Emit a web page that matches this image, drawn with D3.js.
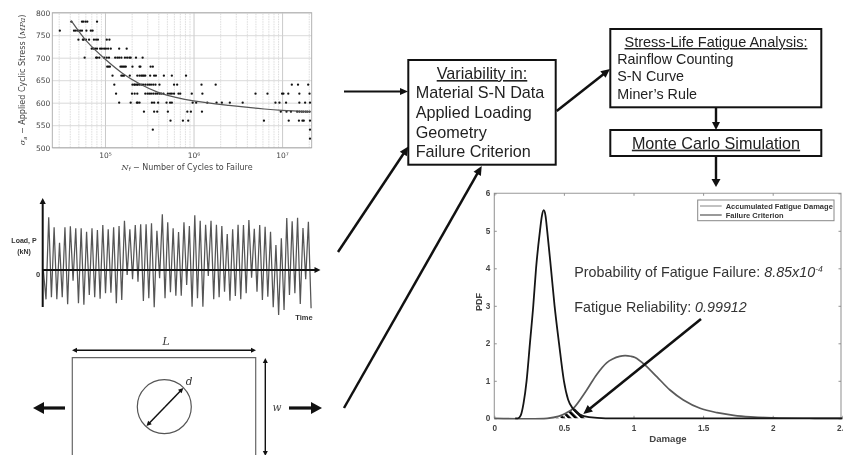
<!DOCTYPE html>
<html><head><meta charset="utf-8">
<script src="https://cdnjs.cloudflare.com/ajax/libs/d3/7.8.5/d3.min.js"></script>
<style>
html,body{margin:0;padding:0;background:#fff;overflow:hidden}
svg{display:block;filter:blur(0.5px)}
</style></head><body><svg id="c" width="843" height="455"></svg>
<script>
// ---- S-N data: stress level (MPa) and log10(cycles) of the failures at that level
const snStress = [780,760,740,720,700,680,660,640,620,600,580,560,540,520];
const snLogCycles = [
 [4.62,4.74,4.755,4.78,4.80,4.91],
 [4.49,4.65,4.67,4.695,4.72,4.74,4.79,4.84,4.86],
 [4.70,4.75,4.76,4.785,4.82,4.875,4.90,4.92,5.02,5.05],
 [4.85,4.87,4.89,4.91,4.945,4.965,4.99,5.01,5.035,5.065,5.16,5.245],
 [4.77,4.90,4.91,4.935,4.99,5.02,5.045,5.115,5.14,5.16,5.185,5.225,5.25,5.275,5.29,5.35,5.425],
 [5.025,5.04,5.055,5.175,5.19,5.205,5.22,5.235,5.31,5.39,5.40,5.515,5.54],
 [5.085,5.185,5.20,5.215,5.28,5.365,5.39,5.41,5.425,5.44,5.455,5.51,5.555,5.575,5.665,5.755,5.915],
 [5.105,5.31,5.33,5.34,5.36,5.37,5.39,5.41,5.43,5.455,5.48,5.50,5.52,5.545,5.57,5.615,5.78,5.815,6.09,6.25,7.11,7.18,7.295],
 [5.125,5.305,5.335,5.365,5.455,5.48,5.50,5.52,5.545,5.57,5.59,5.615,5.635,5.66,5.71,5.735,5.755,5.78,5.83,5.85,5.98,6.10,6.70,6.835,7.0,7.015,7.07,7.195,7.31],
 [5.16,5.29,5.36,5.37,5.39,5.53,5.555,5.60,5.695,5.735,5.755,5.99,6.03,6.155,6.26,6.32,6.41,6.555,6.925,6.97,7.045,7.195,7.26,7.315],
 [5.44,5.555,5.59,5.71,5.93,5.97,6.095,6.985,7.05,7.10,7.17,7.195,7.22,7.24,7.265,7.285,7.31],
 [5.74,5.88,5.94,6.795,7.075,7.19,7.23,7.245,7.315],
 [5.54,7.315],
 [7.315]
];
const snCurveLogN = [4.62,4.8,5.0,5.2,5.4,5.6,5.8,6.0,6.4,6.8,7.0,7.32];
const snCurveStress = [782,735,697,665,641,623,612,604,594,586,583,580];
const snYTicks = [500,550,600,650,700,750,800];
const snXMajor = [1e5,1e6,1e7];
const snXMinor = [3e4,4e4,5e4,6e4,7e4,8e4,9e4,2e5,3e5,4e5,5e5,6e5,7e5,8e5,9e5,2e6,3e6,4e6,5e6,6e6,7e6,8e6,9e6,2e7];
// ---- Load history: turning points (kN)
const loadPeaks = [15.8,12.8,8.2,12.8,13.1,12.5,12.5,11.5,12.5,12.0,13.5,12.2,12.8,13.2,14.8,12.2,13.5,13.7,13.7,14.0,11.8,16.7,14.3,12.5,11.4,14.3,13.2,16.4,14.8,13.6,14.8,13.6,13.2,10.8,12.2,13.6,13.5,15.0,12.4,13.5,13.0,11.5,7.5,9.5,15.6,14.6,15.7,12.6,14.5];
const loadTroughs = [-8.8,-8.2,-8.8,-8.2,-10.3,-3.2,-10,-10.4,-7.5,-8.2,-8.6,-7,-6.8,-10,-9,-1.5,-2.8,-3.5,-9.3,-8.5,-11.2,-2.5,-8.5,-6.7,-7.7,-7.7,-4.5,-11,-8.5,-11,-1.8,-8.8,-8.2,-6.5,-9.2,-7.8,-8.8,-7,-2.3,-6.5,-9,-8,-11.2,-13.5,-12,-7.5,-7,-10.2,-2.8,-11.5];
// ---- PDF curves
const criterionDamage = [0.15,0.17,0.19,0.21,0.232,0.256,0.28,0.30,0.328,0.342,0.355,0.368,0.38,0.407,0.433,0.465,0.50,0.53,0.567,0.615,0.68,0.8,2.5];
const criterionPdf    = [0,0,0.08,0.4,1,2,3,4,5,5.4,5.55,5.4,5,4,3,2,1,0.5,0.25,0.1,0.03,0,0];
const damageDamage = [0,0.38,0.46,0.52,0.568,0.664,0.736,0.807,0.85,0.90,0.939,0.98,1.011,1.083,1.167,1.262,1.358,1.478,1.60,1.72,1.84,2.0,2.3,2.5];
const damagePdf    = [0,0,0.05,0.15,0.267,0.755,1.17,1.48,1.58,1.65,1.67,1.655,1.62,1.42,1.11,0.755,0.49,0.267,0.15,0.08,0.04,0.012,0,0];
const overlapDamage = [0.436,0.48,0.52,0.55,0.58,0.61,0.64,0.664];
const overlapPdf    = [0,0.05,0.13,0.2,0.27,0.17,0.08,0];
const pdfXTicks = [0,0.5,1,1.5,2,2.5];
const pdfYTicks = [0,1,2,3,4,5,6];

const svg = d3.select("#c");
const defs = svg.append("defs");
function arrow(x1,y1,x2,y2,w,hl,hw,col){
  col = col||"#111";
  const a=Math.atan2(y2-y1,x2-x1), c=Math.cos(a), s=Math.sin(a);
  svg.append("line").attr("x1",x1).attr("y1",y1).attr("x2",x2-c*hl*0.7).attr("y2",y2-s*hl*0.7)
     .attr("stroke",col).attr("stroke-width",w);
  const bx=x2-c*hl, by=y2-s*hl;
  svg.append("polygon").attr("fill",col).attr("points",
    [[x2,y2],[bx-s*hw,by+c*hw],[bx+s*hw,by-c*hw]].map(p=>p.join(",")).join(" "));
}
function arrow2(x1,y1,x2,y2,w,hl,hw,col){
  arrow((x1+x2)/2,(y1+y2)/2,x2,y2,w,hl,hw,col);
  arrow((x1+x2)/2,(y1+y2)/2,x1,y1,w,hl,hw,col);
}

// ===== S-N panel =====
const snX = d3.scaleLog().domain([25400,2.16e7]).range([52.3,311.7]);
const snY = d3.scaleLinear().domain([500,800]).range([147.7,12.7]);
const snG = svg.append("g");
snG.append("g").attr("transform","translate(0,147.7)")
  .call(d3.axisBottom(snX).tickValues(snXMinor).tickSize(-135).tickFormat(""))
  .call(g=>{g.select(".domain").remove();g.selectAll("line").attr("stroke","#d4d4d4").attr("stroke-width",0.8).attr("stroke-dasharray","1.5,1");});
const sup={1e5:"10⁵",1e6:"10⁶",1e7:"10⁷"};
snG.append("g").attr("transform","translate(0,147.7)")
  .call(d3.axisBottom(snX).tickValues(snXMajor).tickSize(-135).tickPadding(5).tickFormat(d=>sup[d]))
  .call(g=>{g.select(".domain").remove();g.selectAll("line").attr("stroke","#c4c4c4").attr("stroke-width",0.9);
    g.selectAll("text").attr("font-family","DejaVu Sans").attr("font-size",7.5).attr("fill","#444");});
snG.append("g").attr("transform","translate(52.3,0)")
  .call(d3.axisLeft(snY).tickValues(snYTicks).tickSize(-259.4).tickPadding(2))
  .call(g=>{g.select(".domain").remove();g.selectAll("line").attr("stroke","#d0d0d0").attr("stroke-width",0.8);
    g.selectAll("text").attr("font-family","DejaVu Sans").attr("font-size",7.5).attr("fill","#444");});
snG.append("rect").attr("x",52.3).attr("y",12.7).attr("width",259.4).attr("height",135)
  .attr("fill","none").attr("stroke","#aaa").attr("stroke-width",0.9);
snStress.forEach((s,i)=>{
  snG.append("g").selectAll("circle").data(snLogCycles[i]).join("circle")
    .attr("cx",d=>snX(Math.pow(10,d))).attr("cy",snY(s)).attr("r",1.15).attr("fill","#111");
});
const snLine = d3.line().x(d=>snX(Math.pow(10,d[0]))).y(d=>snY(d[1])).curve(d3.curveCatmullRom);
snG.append("path").datum(d3.zip(snCurveLogN,snCurveStress)).attr("d",snLine)
  .attr("fill","none").attr("stroke","#555").attr("stroke-width",1.2);
const snXL = snG.append("text").attr("x",187).attr("y",169.5).attr("text-anchor","middle")
  .attr("font-family","DejaVu Sans").attr("font-size",8).attr("fill","#444");
snXL.append("tspan").attr("font-style","italic").attr("font-family","DejaVu Serif").text("N");
snXL.append("tspan").attr("font-style","italic").attr("font-size",5.5).attr("dy",1.5).text("f");
snXL.append("tspan").attr("dy",-1.5).text(" − Number of Cycles to Failure");
const snYL = snG.append("text").attr("transform","translate(25,80) rotate(-90)").attr("text-anchor","middle")
  .attr("font-family","DejaVu Sans").attr("font-size",8).attr("fill","#444");
snYL.append("tspan").attr("font-style","italic").attr("font-family","DejaVu Serif").text("σ");
snYL.append("tspan").attr("font-style","italic").attr("font-size",5.5).attr("dy",1.5).text("a");
snYL.append("tspan").attr("dy",-1.5).text(" − Applied Cyclic Stress (");
snYL.append("tspan").attr("font-style","italic").attr("font-family","DejaVu Serif").text("MPa");
snYL.append("tspan").text(")");

// ===== Load panel =====
const loadSeq = [0];
loadTroughs.forEach((t,i)=>{loadSeq.push(t); if(i<loadPeaks.length) loadSeq.push(loadPeaks[i]);});
const tX = d3.scaleLinear().domain([0,99]).range([43.3,311.1]);
const lY = d3.scaleLinear().domain([-11.1,21.6]).range([307,198]);
svg.append("path").datum(loadSeq)
  .attr("d",d3.line().x((d,i)=>tX(i)).y(d=>lY(d)))
  .attr("fill","none").attr("stroke","#555").attr("stroke-width",1.25);
svg.append("line").attr("x1",42.7).attr("x2",42.7).attr("y1",307).attr("y2",203).attr("stroke","#111").attr("stroke-width",2);
svg.append("polygon").attr("points","42.7,198 39.6,204 45.8,204").attr("fill","#111");
svg.append("line").attr("x1",42).attr("x2",316).attr("y1",lY(0)).attr("y2",lY(0)).attr("stroke","#111").attr("stroke-width",2);
svg.append("polygon").attr("points",`320.5,${lY(0)} 314.5,${lY(0)-3} 314.5,${lY(0)+3}`).attr("fill","#111");
const lab=(x,y,t,o={})=>svg.append("text").attr("x",x).attr("y",y).text(t)
  .attr("font-family",o.f||"Liberation Sans").attr("font-size",o.s||7)
  .attr("font-weight",o.w||"normal").attr("font-style",o.i||"normal")
  .attr("text-anchor",o.a||"start").attr("fill",o.c||"#222");
lab(24,243,"Load, P",{s:7,w:"bold",a:"middle",c:"#333"});
lab(24,254,"(kN)",{s:7,w:"bold",a:"middle",c:"#333"});
lab(38,277,"0",{s:7.5,w:"bold",a:"middle",c:"#333"});
lab(304,320,"Time",{s:7.5,w:"bold",a:"middle",c:"#333"});

// ===== Plate =====
svg.append("path").attr("d","M72.3,456V357.7H255.7V456").attr("fill","none").attr("stroke","#666").attr("stroke-width",1.2);
svg.append("circle").attr("cx",164.3).attr("cy",406.7).attr("r",27).attr("fill","none").attr("stroke","#555").attr("stroke-width",1.2);
arrow2(72,350.3,256,350.3,1.4,5,2.5);
arrow2(265.3,358,265.3,456,1.4,5,2.5);
arrow2(146.5,426,183.3,388,1.5,5,2.5);
arrow(65,408,33,408,3.2,11,6);
arrow(289,408,322,408,3.2,11,6);
lab(166,344.5,"L",{f:"DejaVu Serif",i:"italic",s:10.5,a:"middle",c:"#333"});
lab(277,411,"w",{f:"DejaVu Serif",i:"italic",s:10.5,a:"middle",c:"#444"});
lab(189,385,"d",{f:"DejaVu Serif",i:"italic",s:10.5,a:"middle",c:"#333"});

// ===== Flow boxes =====
const box=(x,y,x2,y2)=>svg.append("rect").attr("x",x).attr("y",y).attr("width",x2-x).attr("height",y2-y)
  .attr("fill","#fff").attr("stroke","#111").attr("stroke-width",2);
box(408.3,60,555.7,164.7);
box(610.3,29,821.3,107.3);
box(610.3,130,821.3,156);
lab(482,79,"Variability in:",{s:16.2,a:"middle"}).attr("text-decoration","underline");
["Material S-N Data","Applied Loading","Geometry","Failure Criterion"].forEach((t,i)=>
  lab(415.7,[98.3,118,137.5,157][i],t,{s:16.2}));
lab(716,47,"Stress-Life Fatigue Analysis:",{s:14.5,a:"middle"}).attr("text-decoration","underline");
["Rainflow Counting","S-N Curve","Miner’s Rule"].forEach((t,i)=>
  lab(617.3,[64,81,98.7][i],t,{s:14.3}));
lab(716,148.7,"Monte Carlo Simulation",{s:16.2,a:"middle"}).attr("text-decoration","underline");
arrow(344,91.5,408,91.5,2.2,8,3.5);
arrow(338,252,408.3,146.5,2.5,9,4.2);
arrow(344,408,481.7,166,2.5,9,4.2);
arrow(556.7,111,610,69,2.5,9,4.2);
arrow(716,108,716,130,2.4,8,4);
arrow(716,156,716,187,2.4,8,4.5);

// ===== PDF plot =====
const pX = d3.scaleLinear().domain([0,2.5]).range([494.3,842.3]);
const pY = d3.scaleLinear().domain([0,6]).range([418.3,193.3]);
const pFrame = svg.append("g");
pFrame.append("path").attr("d",`M${pX(0)},${pY(0)}V${pY(6)}H841V${pY(0)}`).attr("fill","none").attr("stroke","#999").attr("stroke-width",1.1);
const styleAxis=g=>{g.select(".domain").remove();g.selectAll("line").attr("stroke","#888").attr("stroke-width",0.9);
  g.selectAll("text").attr("font-family","Liberation Sans").attr("font-weight","bold").attr("font-size",8.2).attr("fill","#444");};
pFrame.append("g").attr("transform",`translate(0,${pY(0)})`)
  .call(d3.axisBottom(pX).tickValues(pdfXTicks).tickSize(-2.5).tickPadding(7).tickFormat(d3.format("")))
  .call(styleAxis);
pFrame.append("g").attr("transform",`translate(0,${pY(6)})`)
  .call(d3.axisTop(pX).tickValues(pdfXTicks.slice(0,5)).tickSize(-2.5).tickFormat(""))
  .call(styleAxis);
pFrame.append("g").attr("transform",`translate(${pX(0)},0)`)
  .call(d3.axisLeft(pY).tickValues(pdfYTicks).tickSize(-2.5).tickPadding(4).tickFormat(d3.format("")))
  .call(styleAxis);
pFrame.append("g").attr("transform","translate(841,0)")
  .call(d3.axisRight(pY).tickValues(pdfYTicks).tickSize(-2.5).tickFormat(""))
  .call(styleAxis);
const hatch = defs.append("pattern").attr("id","hatch").attr("patternUnits","userSpaceOnUse")
  .attr("width",4.6).attr("height",4.6).attr("patternTransform","rotate(-45)");
hatch.append("rect").attr("width",2.6).attr("height",4.6).attr("fill","#000");
svg.append("path").datum(d3.zip(overlapDamage,overlapPdf))
  .attr("d",d3.area().x(d=>pX(d[0])).y0(pY(0)).y1(d=>pY(d[1])).curve(d3.curveMonotoneX))
  .attr("fill","url(#hatch)");
const pLine=d3.line().x(d=>pX(d[0])).y(d=>pY(d[1])).curve(d3.curveMonotoneX);
svg.append("path").datum(d3.zip(damageDamage,damagePdf))
  .attr("d",d3.line().x(d=>pX(d[0])).y(d=>pY(d[1])).curve(d3.curveCatmullRom))
  .attr("fill","none").attr("stroke","#5a5a5a").attr("stroke-width",1.7);
svg.append("path").datum(d3.zip(criterionDamage,criterionPdf)).attr("d",pLine)
  .attr("fill","none").attr("stroke","#151515").attr("stroke-width",1.8);
// legend
svg.append("rect").attr("x",697.7).attr("y",200).attr("width",136.3).attr("height",20.7)
  .attr("fill","#fff").attr("stroke","#888").attr("stroke-width",1);
svg.append("line").attr("x1",700).attr("x2",721.7).attr("y1",206).attr("y2",206).attr("stroke","#777").attr("stroke-width",0.9);
svg.append("line").attr("x1",700).attr("x2",721.7).attr("y1",215).attr("y2",215).attr("stroke","#555").attr("stroke-width",1.2);
lab(725.7,208.6,"Accumulated Fatigue Damage",{s:7.5,w:"bold",c:"#333"});
lab(725.7,217.6,"Failure Criterion",{s:7.5,w:"bold",c:"#333"});
lab(668,441.5,"Damage",{s:9.6,w:"bold",a:"middle",c:"#444"});
svg.append("text").attr("transform","translate(482,302) rotate(-90)").attr("text-anchor","middle")
  .attr("font-family","Liberation Sans").attr("font-weight","bold").attr("font-size",9).attr("fill","#444").text("PDF");
const t1=lab(574.3,276.7,"Probability of Fatigue Failure: ",{s:14.3,c:"#333"});
t1.append("tspan").attr("font-style","italic").text("8.85x10");
t1.append("tspan").attr("font-style","italic").attr("font-size",8.5).attr("dy",-5).text("-4");
const t2=lab(574.3,311.7,"Fatigue Reliability: ",{s:14.3,c:"#333"});
t2.append("tspan").attr("font-style","italic").text("0.99912");
arrow(701,319,583.3,414,2.6,9,4.2);
</script></body></html>
